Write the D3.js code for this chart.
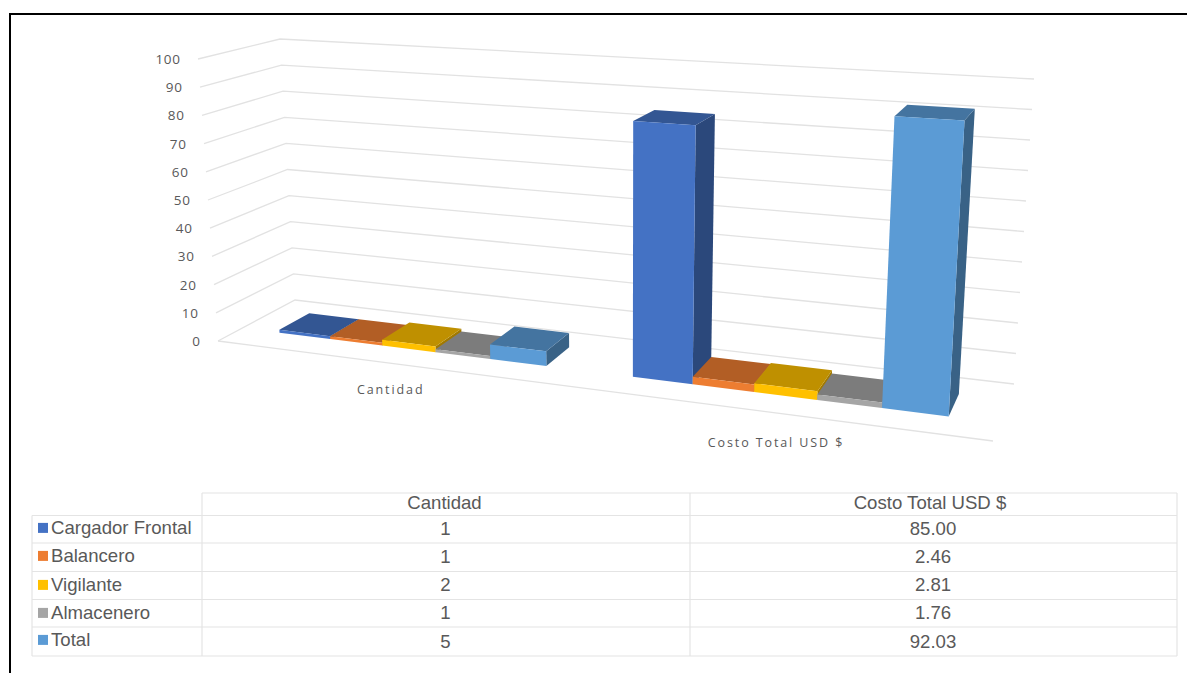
<!DOCTYPE html>
<html>
<head>
<meta charset="utf-8">
<script src="https://cdn.jsdelivr.net/npm/d3@7"></script>
<style>
  html, body { margin: 0; padding: 0; background: #fff; }
  svg { display: block; }
</style>
</head>
<body>
<svg id="chart" width="1187" height="673"></svg>
<script>
const categories = ["Cantidad", "Costo Total USD $"];
const seriesNames = ["Cargador Frontal", "Balancero", "Vigilante", "Almacenero", "Total"];
const seriesColors = ["#4472C4", "#ED7D31", "#FFC000", "#A5A5A5", "#5B9BD5"];
const cantidadValues = [1, 1, 2, 1, 5];
const costoValues = [85.00, 2.46, 2.81, 1.76, 92.03];
const valueTicks = [0, 10, 20, 30, 40, 50, 60, 70, 80, 90, 100];

const svg = d3.select("#chart");
const textColor = "#595959";
const gridColor = "#e2e2e2";

// Page frame
svg.append("path")
  .attr("d", "M10,673V14H1187")
  .attr("fill", "none").attr("stroke", "#000").attr("stroke-width", 2);

// Chart box corners, in order: front-left, front-right, back-right, back-left
const floorQuad = [[218, 341], [993, 441], [1014, 384], [295, 300]];
const ceilQuad = [[198, 59], [1013, 107], [1034, 79], [280, 39]];

// Unit square to quadrilateral perspective mapping
function quadMap(q) {
  const [[x0, y0], [x1, y1], [x2, y2], [x3, y3]] = q;
  const sx = x0 - x1 + x2 - x3, sy = y0 - y1 + y2 - y3;
  const dx1 = x1 - x2, dy1 = y1 - y2, dx2 = x3 - x2, dy2 = y3 - y2;
  const det = dx1 * dy2 - dx2 * dy1;
  const g = (sx * dy2 - dx2 * sy) / det;
  const h = (dx1 * sy - sx * dy1) / det;
  const a = x1 - x0 + g * x1, b = x3 - x0 + h * x3;
  const c = y1 - y0 + g * y1, d = y3 - y0 + h * y3;
  return (u, v) => {
    const w = g * u + h * v + 1;
    return [(a * u + b * v + x0) / w, (c * u + d * v + y0) / w];
  };
}
const floorAt = quadMap(floorQuad);
const ceilAt = quadMap(ceilQuad);

// Value axis: 0 at the floor of the box, 1 at its ceiling
const valueScale = d3.scaleLinear().domain([0, 100]).range([0, 1]);
function project(u, depth, value) {
  const t = valueScale(value);
  const f = floorAt(u, depth), c = ceilAt(u, depth);
  return [f[0] + (c[0] - f[0]) * t, f[1] + (c[1] - f[1]) * t];
}

// Category and series bands along the box width, bar extent along its depth
const catBand = d3.scaleBand().domain(categories).range([0, 1]).paddingInner(0.23).paddingOuter(0.115);
const serBand = d3.scaleBand().domain(seriesNames).range([0, catBand.bandwidth()]);
const depthFront = 0.3, depthBack = 0.7;

// Gridlines along the left and back walls
const wallLine = d3.line();
const grid = svg.append("g").attr("fill", "none").attr("stroke", gridColor).attr("stroke-width", 1.3);
grid.selectAll("path.wall").data(valueTicks).join("path").attr("class", "wall")
  .attr("d", v => wallLine([project(0, 0, v), project(0, 1, v), project(1, 1, v)]));
grid.append("path").attr("d", wallLine([project(0, 0, 0), project(1, 0, 0)]));

// Value labels
svg.append("g").selectAll("text").data(valueTicks).join("text")
  .attr("x", v => project(0, 0, v)[0] - 17.5)
  .attr("y", v => project(0, 0, v)[1] + 0.2)
  .attr("dy", "0.35em")
  .attr("text-anchor", "end")
  .attr("font-family", "'Open Sans', sans-serif").attr("font-size", 13.5)
  .attr("letter-spacing", 0.6)
  .attr("fill", textColor)
  .text(d => d);

// Category labels under the floor
const labelDrop = [27, 30];
svg.append("g").selectAll("text").data(categories).join("text")
  .attr("x", c => floorAt(catBand(c) + catBand.bandwidth() / 2, 0)[0] + 3)
  .attr("y", (c, i) => floorAt(catBand(c) + catBand.bandwidth() / 2, 0)[1] + labelDrop[i])
  .attr("dy", "0.35em")
  .attr("text-anchor", "middle")
  .attr("font-family", "'Open Sans', sans-serif").attr("font-size", 12.5)
  .attr("letter-spacing", 1.9)
  .attr("fill", textColor)
  .text(d => d);

// Bars, painted left to right so each one covers its neighbour's side face
function shade(color, k) {
  const c = d3.rgb(color);
  return d3.rgb(c.r * k, c.g * k, c.b * k).formatHex();
}
const poly = pts => "M" + pts.map(p => p.join(",")).join("L") + "Z";
const valuesByCategory = [cantidadValues, costoValues];
const bars = categories.flatMap((cat, ci) => seriesNames.map((name, si) => ({
  u0: catBand(cat) + serBand(name),
  u1: catBand(cat) + serBand(name) + serBand.bandwidth(),
  value: valuesByCategory[ci][si],
  color: seriesColors[si]
})));
const barGroups = svg.append("g").selectAll("g").data(bars).join("g");
barGroups.append("path")
  .attr("fill", d => shade(d.color, 0.63))
  .attr("d", d => poly([project(d.u1, depthFront, 0), project(d.u1, depthBack, 0),
                        project(d.u1, depthBack, d.value), project(d.u1, depthFront, d.value)]));
barGroups.append("path")
  .attr("fill", d => shade(d.color, 0.75))
  .attr("d", d => poly([project(d.u0, depthFront, d.value), project(d.u1, depthFront, d.value),
                        project(d.u1, depthBack, d.value), project(d.u0, depthBack, d.value)]));
barGroups.append("path")
  .attr("fill", d => d.color)
  .attr("d", d => poly([project(d.u0, depthFront, 0), project(d.u1, depthFront, 0),
                        project(d.u1, depthFront, d.value), project(d.u0, depthFront, d.value)]));

// Data table with legend keys
const colEdges = [32, 202, 690, 1177];
const rowEdges = [493, 515.5, 543, 571.5, 599.5, 627, 656];
const rowText = [502.4, 527.4, 555.4, 584.4, 612.4, 639.4];
const numberText = [502.4, 528.4, 556.4, 584.4, 612.4, 641.4];
const headerShift = [-1.5, -3.5];
const table = svg.append("g");
const tableLines = table.append("g").attr("stroke", "#e4e4e4").attr("stroke-width", 1.2).attr("fill", "none");
rowEdges.forEach((y, i) => tableLines.append("path").attr("d", `M${i === 0 ? colEdges[1] : colEdges[0]},${y}H${colEdges[3]}`));
colEdges.forEach((x, i) => tableLines.append("path").attr("d", `M${x},${i === 0 ? rowEdges[1] : rowEdges[0]}V${rowEdges[6]}`));

const tableFont = "'Liberation Sans', Arial, sans-serif";
const tableSize = 18.6;
const columnValues = [cantidadValues.map(d3.format("d")), costoValues.map(d3.format(".2f"))];
categories.forEach((cat, ci) => {
  const cx = (colEdges[ci + 1] + colEdges[ci + 2]) / 2;
  table.append("g").selectAll("text").data([cat, ...columnValues[ci]]).join("text")
    .attr("x", (d, i) => cx + (i === 0 ? headerShift[ci] : -0.5))
    .attr("y", (d, i) => numberText[i])
    .attr("dy", "0.35em")
    .attr("text-anchor", "middle")
    .attr("font-family", tableFont).attr("font-size", tableSize)
    .attr("fill", textColor)
    .text(d => d);
});
const legendRows = table.append("g").selectAll("g").data(seriesNames).join("g");
legendRows.append("rect")
  .attr("x", 38).attr("width", 10).attr("height", 10)
  .attr("y", (d, i) => rowText[i + 1] - 4.5)
  .attr("fill", (d, i) => seriesColors[i]);
legendRows.append("text")
  .attr("x", 51)
  .attr("y", (d, i) => rowText[i + 1])
  .attr("dy", "0.35em")
  .attr("font-family", tableFont).attr("font-size", tableSize)
  .attr("fill", textColor)
  .text(d => d);
</script>
</body>
</html>
